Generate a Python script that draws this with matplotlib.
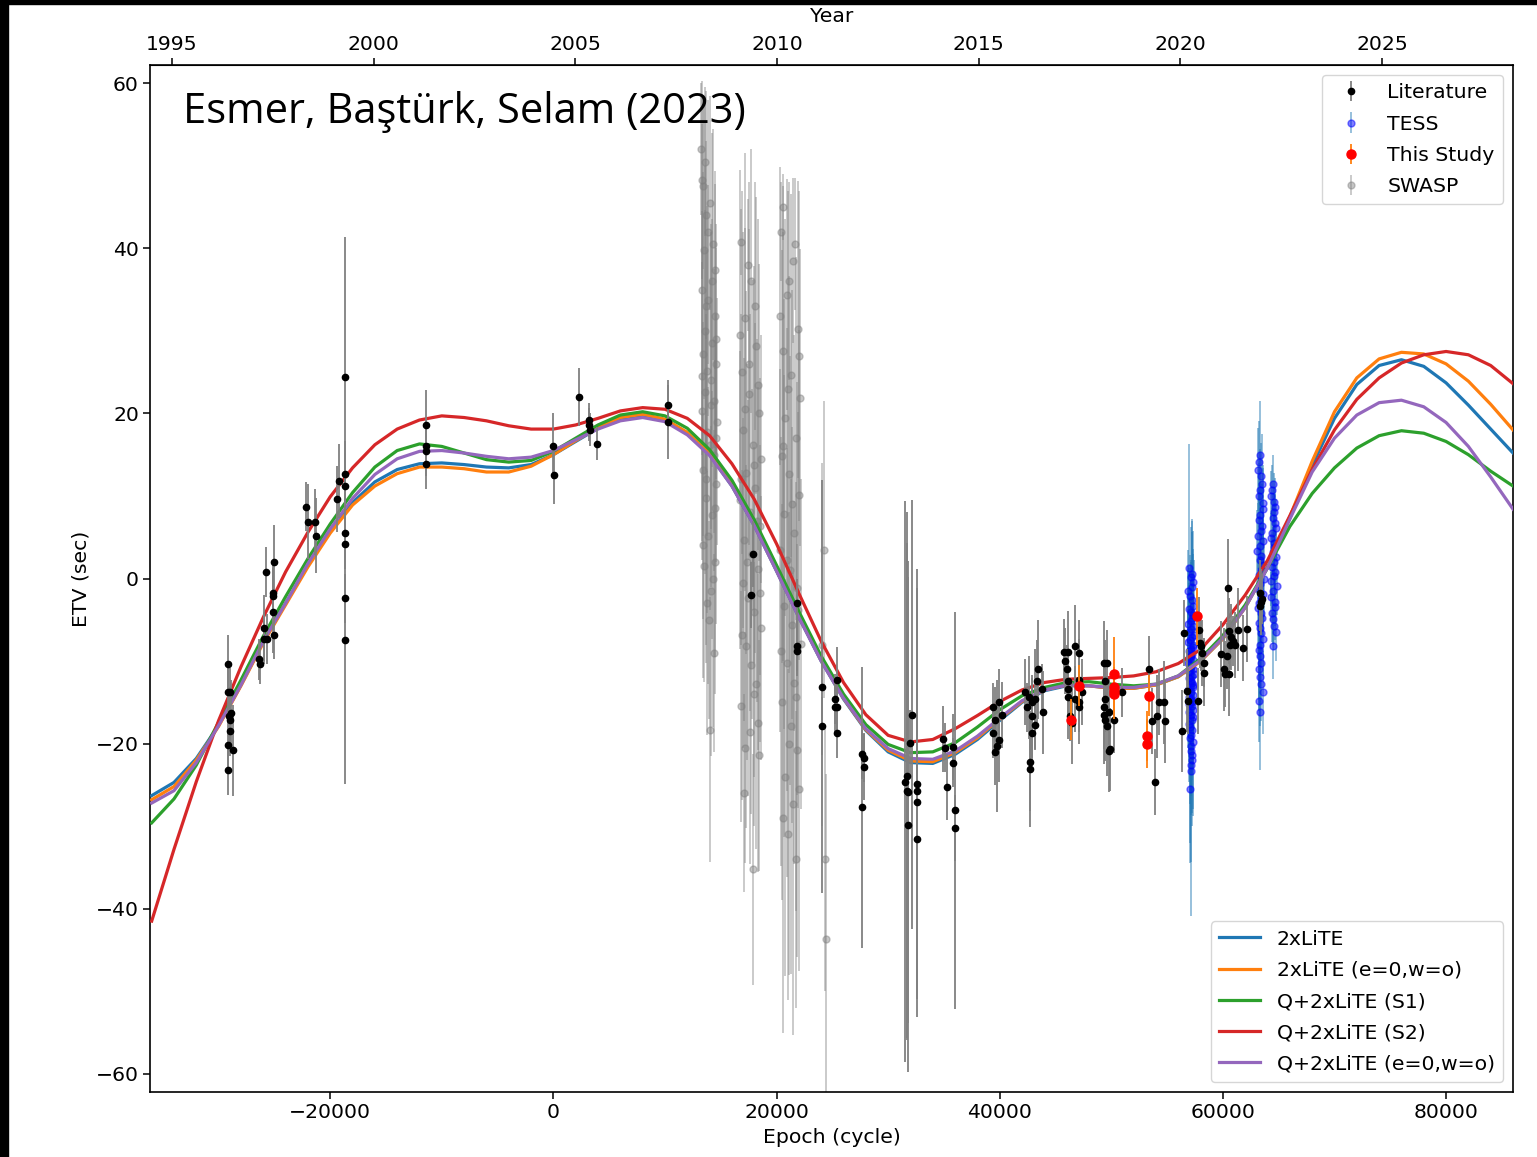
import numpy as np
import matplotlib.pyplot as plt
from matplotlib.patches import Rectangle

# model curves, sampled every 2000 cycles
epoch_grid = np.arange(-36000, 86001, 2000)
fit_2lite = [-26.3, -24.7, -21.8, -17.8, -12.9, -7.6, -3.0, 1.6, 5.8, 9.2,
             11.7, 13.2, 13.9, 14.0, 13.8, 13.5, 13.4, 13.8, 15.0, 16.6,
             18.2, 19.3, 19.7, 19.2, 17.6, 15.0, 11.2, 6.4, 0.9, -4.7,
             -10.0, -14.6, -18.4, -21.0, -22.3, -22.4, -21.3, -19.5, -17.2, -15.0,
             -13.6, -13.0, -13.0, -13.3, -13.3, -12.9, -11.9, -10.0, -7.3, -3.5,
             1.3, 7.3, 13.7, 19.4, 23.5, 25.8, 26.5, 25.7, 23.7, 21.0,
             18.1, 15.2]
fit_2lite_circ = [-26.8, -25.2, -22.0, -17.9, -13.0, -7.8, -3.2, 1.4, 5.5, 8.9,
                  11.2, 12.7, 13.5, 13.5, 13.3, 12.9, 12.9, 13.6, 15.0, 16.7,
                  18.3, 19.5, 19.9, 19.3, 17.7, 15.1, 11.3, 6.5, 1.0, -4.6,
                  -9.9, -14.5, -18.3, -20.8, -22.1, -22.2, -21.1, -19.3, -17.0, -14.9,
                  -13.5, -12.9, -13.0, -13.3, -13.3, -12.9, -11.9, -10.0, -7.3, -3.5,
                  1.4, 7.5, 14.2, 20.2, 24.3, 26.6, 27.4, 27.2, 26.0, 23.9,
                  21.1, 18.0]
fit_q_s1 = [-29.6, -26.7, -22.6, -17.4, -12.3, -7.0, -2.2, 2.4, 6.6, 10.4,
            13.5, 15.5, 16.3, 16.0, 15.2, 14.4, 14.1, 14.3, 15.4, 17.0,
            18.6, 19.8, 20.2, 19.7, 18.2, 15.6, 11.9, 7.1, 1.6, -4.0,
            -9.4, -14.0, -17.7, -20.1, -21.1, -21.0, -19.9, -18.0, -15.9, -14.2,
            -13.2, -12.6, -12.5, -12.8, -13.0, -12.8, -11.8, -9.7, -6.9, -3.2,
            1.3, 6.3, 10.3, 13.4, 15.8, 17.3, 17.9, 17.6, 16.6, 15.0,
            13.0, 11.2]
fit_q_s2 = [-41.5, -32.8, -24.6, -17.2, -10.7, -4.7, 0.8, 5.6, 9.9, 13.4,
            16.2, 18.1, 19.2, 19.7, 19.5, 19.1, 18.5, 18.1, 18.1, 18.6,
            19.4, 20.3, 20.7, 20.5, 19.4, 17.3, 13.9, 9.6, 4.2, -1.8,
            -7.6, -12.6, -16.5, -19.0, -19.8, -19.5, -18.2, -16.6, -14.9, -13.5,
            -12.6, -12.2, -12.1, -12.0, -11.8, -11.3, -10.3, -8.6, -5.6, -2.0,
            2.2, 7.6, 13.2, 18.0, 21.7, 24.3, 26.1, 27.1, 27.5, 27.1,
            25.8, 23.6]
fit_q_circ = [-27.2, -25.7, -22.3, -17.8, -12.9, -7.6, -3.0, 1.8, 6.0, 9.7,
              12.6, 14.5, 15.4, 15.5, 15.2, 14.8, 14.5, 14.7, 15.5, 16.8,
              18.1, 19.1, 19.5, 19.0, 17.4, 14.9, 11.2, 6.4, 0.9, -4.7,
              -10.0, -14.5, -18.2, -20.6, -21.8, -21.9, -20.9, -19.1, -16.9, -14.8,
              -13.5, -12.9, -13.0, -13.2, -13.2, -12.8, -11.8, -9.9, -7.2, -3.5,
              1.3, 7.2, 12.9, 17.0, 19.8, 21.3, 21.6, 20.8, 18.9, 16.0,
              12.3, 8.4]

# epoch, ETV (s), error (s)
literature = np.array([
    (-29180, -10.3, 3.5), (-29180, -13.8, 3.0), (-28940, -13.8, 3.0), (-29090, -16.7, 3.5),
    (-28880, -16.3, 4.0), (-28940, -17.1, 3.0), (-28970, -18.5, 3.0), (-29180, -20.2, 3.0),
    (-28670, -20.8, 5.5), (-29120, -23.2, 3.0),
    (-26340, -9.8, 2.5), (-26300, -10.3, 2.5), (-25890, -6.0, 4.0), (-25890, -7.3, 3.0),
    (-25740, 0.8, 3.0), (-25650, -7.3, 3.0), (-25110, -1.7, 3.0), (-25110, -2.1, 4.0),
    (-25140, -4.0, 5.0), (-25050, -6.8, 3.0), (-25050, 2.0, 4.5),
    (-22150, 8.7, 3.0), (-22000, 6.9, 4.5), (-21320, 6.9, 4.0), (-21280, 5.2, 4.5),
    (-19370, 9.6, 4.0), (-19170, 11.8, 4.5), (-18720, 12.7, 4.0), (-18720, 11.2, 4.0),
    (-18720, 5.5, 3.0), (-18720, 4.2, 3.0), (-18720, -2.4, 3.0), (-18720, -7.4, 17.5),
    (-18720, 24.4, 17.0),
    (-11390, 18.6, 4.2), (-11390, 16.0, 3.0), (-11390, 15.4, 3.0), (-11390, 13.9, 3.0),
    (0, 16.0, 4.0), (90, 12.5, 3.5), (2330, 22.0, 3.5), (3230, 19.2, 2.0),
    (3230, 18.6, 2.0), (3320, 18.0, 2.0), (3950, 16.3, 2.0), (10230, 21.0, 3.0),
    (10230, 19.0, 4.5),
    (17850, 3.0, 4.0), (17670, -2.0, 4.0), (21800, -3.0, 3.0), (21800, -8.2, 3.0),
    (21800, -8.8, 3.0), (24040, -13.1, 25.0), (24040, -17.9, 3.5), (25450, -12.3, 4.0),
    (25230, -14.6, 3.0), (25230, -15.6, 3.0), (25450, -15.6, 3.0), (25450, -18.7, 3.0),
    (27620, -21.3, 3.0), (27870, -21.7, 3.0), (27870, -22.8, 4.0), (27700, -27.7, 17.0),
    (31660, -23.9, 32.0), (31510, -24.6, 34.0), (31660, -25.7, 30.0), (31810, -25.9, 28.0),
    (31810, -29.8, 30.0), (31960, -19.9, 4.0), (32110, -16.5, 26.0), (32620, -24.9, 26.0),
    (32620, -25.8, 4.0), (32620, -27.1, 26.0), (32620, -31.6, 4.0),
    (34950, -19.5, 4.0), (35100, -20.5, 3.0), (35850, -20.4, 4.0), (35250, -25.3, 4.0),
    (35800, -22.3, 3.0), (35990, -28.1, 24.0), (35990, -30.2, 4.0),
    (39440, -15.6, 3.0), (39890, -15.0, 4.0), (39590, -17.2, 4.0), (39440, -18.7, 3.0),
    (39890, -19.6, 5.0), (40180, -16.5, 4.0), (39740, -20.3, 8.0), (39590, -21.0, 4.0),
    (42270, -13.8, 4.0), (42580, -14.4, 5.0), (42870, -15.0, 3.0), (43170, -14.6, 6.0),
    (42420, -15.6, 3.0), (42870, -16.7, 5.0), (43170, -17.8, 3.0), (42870, -18.7, 4.0),
    (42720, -22.2, 6.0), (42720, -23.1, 7.0), (43470, -11.0, 6.0), (43320, -12.4, 5.0),
    (43770, -13.4, 3.0), (43920, -16.2, 5.0),
    (45720, -8.9, 4.0), (46160, -8.9, 5.0), (45860, -10.0, 4.0), (46010, -11.0, 3.0),
    (46160, -12.4, 4.0), (46160, -13.4, 3.0), (46160, -14.4, 5.0), (46310, -16.7, 3.0),
    (46460, -17.5, 5.0), (46760, -8.2, 5.0), (47060, -9.0, 4.0), (46760, -14.6, 4.0),
    (47060, -15.0, 5.0), (47060, -15.6, 3.0), (47360, -13.8, 4.0), (47060, -12.3, 5.0),
    (49300, -10.2, 5.0), (49600, -10.2, 4.0), (49450, -12.4, 5.0), (49450, -14.6, 4.0),
    (49300, -15.6, 5.0), (49300, -16.5, 6.0), (49450, -17.1, 5.0), (49750, -16.2, 4.0),
    (50200, -17.1, 4.0), (49900, -20.7, 5.0), (49750, -20.9, 5.0), (49600, -17.9, 6.0),
    (50940, -13.8, 3.0), (53340, -11.0, 4.0), (53640, -17.3, 4.0), (54080, -16.7, 5.0),
    (54230, -15.0, 4.0), (54680, -15.0, 5.0), (54830, -17.3, 5.0), (53930, -24.6, 4.0),
    (56330, -18.5, 5.0), (56530, -6.6, 4.0), (56770, -13.6, 5.0), (56860, -14.8, 4.0),
    (57820, -6.2, 4.0), (57960, -7.8, 3.0), (58050, -8.2, 3.0), (58110, -9.0, 4.0),
    (58320, -10.2, 3.0), (58320, -11.4, 4.0), (57770, -14.8, 4.0), (59830, -9.2, 4.0),
    (60070, -11.0, 5.0), (60160, -11.6, 4.0), (60520, -11.6, 5.0), (60460, -1.2, 6.0),
    (60520, -6.4, 4.0), (60700, -7.1, 4.0), (60880, -7.6, 3.0), (61060, -8.0, 4.0),
    (60610, -8.0, 3.0), (60340, -9.4, 4.0), (61390, -6.2, 5.0), (61840, -8.4, 4.0),
    (62150, -6.1, 4.0), (63350, -1.7, 4.0), (63500, -2.5, 3.0), (63290, -3.3, 3.0),
    (63400, -2.9, 4.0),
])

this_study = np.array([
    (46400, -17.1, 2.5), (47060, -13.0, 2.5), (50250, -11.6, 4.5), (50200, -13.2, 2.5),
    (50200, -13.6, 2.5), (50200, -14.0, 3.0), (53340, -14.2, 2.5), (53190, -19.1, 3.0),
    (53190, -20.0, 3.0), (57670, -4.6, 3.5),
])

tess = np.array([
    # sectors around cycle 57100
    (57000, 1.3, 15.0), (57250, 0.6, 5.0), (57150, 0.2, 6.0), (57350, -0.4, 4.0),
    (57250, -1.0, 8.0), (56900, -1.5, 5.0), (57050, -2.1, 5.0), (57200, -2.6, 4.0),
    (57350, -3.3, 9.0), (56950, -3.7, 5.0), (57100, -4.0, 6.0), (57300, -4.4, 5.0),
    (57200, -4.8, 12.0), (57150, -5.2, 4.0), (56900, -5.5, 7.0), (57350, -5.8, 5.0),
    (57150, -6.1, 5.0), (56950, -6.5, 6.0), (57400, -6.8, 9.0), (57200, -7.1, 5.0),
    (57050, -7.4, 6.0), (56900, -7.7, 4.0), (57300, -8.0, 11.0), (57350, -8.3, 5.0),
    (57100, -8.5, 5.0), (56950, -8.8, 6.0), (57250, -9.1, 7.0), (57150, -9.4, 5.0),
    (57000, -9.6, 9.0), (57350, -9.9, 4.0), (56900, -10.2, 6.0), (57050, -10.5, 5.0),
    (57150, -10.7, 13.0), (57300, -11.0, 6.0), (57000, -11.3, 5.0), (57400, -11.6, 7.0),
    (57250, -11.8, 8.0), (56950, -12.1, 5.0), (57100, -12.4, 6.0), (57200, -12.7, 5.0),
    (57300, -12.9, 10.0), (57350, -13.2, 6.0), (56900, -13.5, 7.0), (57100, -13.8, 5.0),
    (57300, -14.1, 5.0), (57000, -14.4, 6.0), (57150, -14.6, 9.0), (57250, -14.9, 5.0),
    (56950, -15.2, 6.0), (57200, -15.5, 5.0), (57350, -15.9, 12.0), (57000, -16.2, 6.0),
    (57100, -16.5, 8.0), (57300, -16.8, 5.0), (57200, -17.2, 6.0), (56950, -17.6, 7.0),
    (57050, -18.0, 14.0), (57250, -18.4, 6.0), (57150, -18.9, 7.0), (57050, -19.3, 8.0),
    (57300, -19.8, 9.0), (57150, -20.3, 6.0), (57100, -20.9, 20.0), (57250, -21.4, 7.0),
    (57200, -22.0, 8.0), (57100, -22.6, 6.0), (57150, -23.3, 11.0), (57050, -25.5, 9.0),
    # sectors around cycle 63400
    (63350, 15.0, 6.5), (63250, 14.1, 5.0), (63150, 13.2, 5.0), (63450, 12.4, 4.0),
    (63500, 11.5, 6.0), (63300, 10.7, 5.0), (63250, 10.0, 4.0), (63550, 9.2, 4.5),
    (63600, 8.4, 5.0), (63350, 7.7, 4.0), (63200, 7.1, 4.5), (63500, 6.4, 5.0),
    (63400, 5.8, 6.0), (63150, 5.1, 4.0), (63550, 4.5, 4.0), (63300, 3.9, 5.0),
    (63100, 3.3, 5.0), (63450, 2.7, 4.0), (63300, 2.2, 4.0), (63600, 1.6, 5.0),
    (63450, 1.0, 6.0), (63200, 0.4, 4.0), (63650, -0.1, 5.0), (63350, -0.7, 4.5),
    (63250, -1.3, 4.0), (63550, -1.9, 5.0), (63400, -2.4, 5.0), (63250, -3.0, 4.0),
    (63150, -3.6, 6.0), (63450, -4.2, 5.0), (63500, -4.8, 4.0), (63200, -5.4, 4.5),
    (63300, -6.0, 5.0), (63400, -6.6, 4.0), (63600, -7.3, 4.5), (63350, -8.0, 5.0),
    (63200, -8.7, 6.0), (63300, -9.4, 4.0), (63450, -10.2, 5.0), (63250, -11.0, 5.0),
    (63350, -11.9, 6.0), (63400, -12.8, 4.5), (63550, -13.8, 5.0), (63250, -14.8, 5.0),
    (63300, -16.2, 7.0),
    # sectors around cycle 64550
    (64500, 11.4, 3.6), (64400, 10.7, 3.0), (64350, 10.0, 3.0), (64600, 9.3, 3.5),
    (64700, 8.7, 3.5), (64550, 8.0, 3.0), (64450, 7.3, 3.0), (64650, 6.7, 3.5),
    (64800, 6.1, 3.5), (64400, 5.5, 3.0), (64300, 4.9, 3.0), (64550, 4.3, 3.5),
    (64600, 3.8, 4.0), (64450, 3.2, 3.0), (64750, 2.6, 3.0), (64600, 2.0, 3.5),
    (64400, 1.4, 3.5), (64700, 0.8, 3.0), (64550, 0.3, 3.0), (64350, -0.3, 3.0),
    (64850, -0.9, 3.5), (64500, -1.5, 3.0), (64350, -2.2, 3.0), (64700, -2.8, 3.0),
    (64650, -3.5, 4.0), (64400, -4.2, 3.5), (64500, -4.9, 3.0), (64600, -5.7, 3.0),
    (64750, -6.5, 3.5), (64450, -8.2, 4.0),
])

swasp = np.array([
    (13300, 48.3, 12), (13450, 47.5, 10), (13700, 44.0, 15), (14300, 40.5, 14),
    (13500, 39.8, 18), (14450, 37.4, 12), (13350, 35.0, 20), (13900, 33.7, 14),
    (14500, 31.8, 16), (13600, 30.0, 20), (14200, 28.5, 15), (13400, 27.2, 22),
    (14600, 26.0, 14), (13800, 25.1, 20), (14100, 24.0, 18), (13550, 22.6, 22),
    (14400, 21.5, 16), (13300, 20.3, 18), (14650, 19.0, 15), (13750, 17.8, 22),
    (14000, 16.2, 20), (14350, 14.9, 14), (13450, 13.1, 18), (14550, 11.5, 17),
    (13650, 9.8, 20), (14250, 7.7, 15), (13850, 5.2, 18), (14500, 2.0, 16),
    (13500, 1.5, 14), (14150, -1.5, 20), (13950, -5.0, 12), (14400, -9.0, 12),
    (14050, -18.3, 16), (13250, 52.0, 8), (13600, 50.5, 9), (14050, 45.5, 13),
    (13850, 42.0, 16), (14250, 36.0, 18), (13650, 33.0, 20), (14550, 29.0, 14),
    (13350, 24.5, 20), (14150, 21.0, 22), (13700, 12.0, 20), (14450, 8.5, 18),
    (13400, 4.0, 16), (14300, 0.0, 18), (13800, -3.0, 16), (14600, 17.0, 15),
    (16800, 40.8, 4), (17700, 36.0, 16), (17200, 31.5, 20), (18200, 28.2, 18),
    (16900, 25.0, 22), (17500, 22.3, 20), (18400, 20.1, 18), (17000, 18.0, 24),
    (17900, 16.2, 20), (18600, 14.5, 15), (17300, 12.8, 22), (18100, 11.0, 20),
    (16700, 9.5, 18), (17600, 8.0, 24), (18500, 6.3, 18), (17100, 4.7, 22),
    (17800, 3.0, 20), (18300, 1.2, 22), (16950, -0.5, 20), (17400, -2.4, 24),
    (18000, -4.1, 20), (18650, -6.0, 16), (17250, -8.2, 22), (17750, -10.5, 18),
    (18150, -12.8, 20), (16850, -15.5, 14), (17650, -18.6, 16), (18450, -21.4, 14),
    (17050, -26.0, 12), (17850, -35.2, 14), (17450, 38.0, 8), (18050, 33.0, 15),
    (16750, 29.5, 20), (17550, 26.0, 22), (18350, 23.5, 20), (17150, 20.5, 22),
    (17950, 13.8, 24), (16850, 12.0, 20), (18250, 7.0, 22), (17350, 2.0, 24),
    (18550, -1.8, 18), (16900, -6.8, 20), (17950, -14.0, 16), (18350, -17.5, 18),
    (17150, -20.5, 14),
    (20400, 42.0, 6), (21500, 38.5, 10), (20900, 34.4, 14), (21900, 30.2, 18),
    (20600, 27.5, 20), (21300, 24.6, 22), (22100, 21.9, 18), (20800, 19.5, 24),
    (21700, 17.0, 22), (20500, 14.8, 25), (21100, 12.6, 24), (22000, 10.1, 20),
    (20700, 7.8, 26), (21600, 5.5, 24), (20300, 3.4, 22), (21200, 1.0, 26),
    (21800, -1.2, 25), (20650, -3.3, 28), (21400, -5.6, 24), (22150, -7.9, 20),
    (20950, -10.2, 26), (21550, -12.6, 22), (20450, -15.0, 24), (21250, -17.9, 30),
    (21850, -20.8, 25), (20750, -24.1, 24), (21450, -27.3, 28), (21050, -31.0, 20),
    (21750, -34.0, 18), (20550, 45.0, 4), (21650, 40.5, 8), (21150, 36.0, 12),
    (20350, 31.8, 18), (22050, 27.0, 20), (21000, 23.0, 24), (20600, 16.0, 26),
    (21350, 9.0, 26), (20900, 2.3, 28), (21950, -3.8, 24), (20400, -8.8, 26),
    (21700, -14.3, 26), (21100, -20.0, 28), (22000, -25.5, 22), (20550, -29.0, 26),
    (24100, -8.0, 22), (24350, -34.0, 16), (24450, -43.7, 20), (24250, 3.5, 18),
])

models = [
    ('2xLiTE', fit_2lite, 'C0'),
    ('2xLiTE (e=0,w=o)', fit_2lite_circ, 'C1'),
    ('Q+2xLiTE (S1)', fit_q_s1, 'C2'),
    ('Q+2xLiTE (S2)', fit_q_s2, 'C3'),
    ('Q+2xLiTE (e=0,w=o)', fit_q_circ, 'C4'),
]

plt.rcParams['font.size'] = 14.7

fig = plt.figure(figsize=(15.37, 11.57), dpi=100)
ax = fig.add_axes([0.0976, 0.0562, 0.8868, 0.8876])

h_swasp = ax.errorbar(swasp[:, 0], swasp[:, 1], yerr=swasp[:, 2], fmt='o', color='gray',
                      ms=5, elinewidth=1.3, alpha=0.45, zorder=1)
h_tess = ax.errorbar(tess[:, 0], tess[:, 1], yerr=tess[:, 2], fmt='o', color='b',
                     ecolor='tab:blue', ms=5, elinewidth=1.3, alpha=0.5, zorder=2)

lines = []
for name, vals, col in models:
    ln, = ax.plot(epoch_grid, vals, color=col, lw=2.3, label=name, zorder=3)
    lines.append(ln)

h_lit = ax.errorbar(literature[:, 0], literature[:, 1], yerr=literature[:, 2], fmt='o',
                    color='k', ecolor='gray', ms=4.5, elinewidth=1.3, zorder=4)
h_this = ax.errorbar(this_study[:, 0], this_study[:, 1], yerr=this_study[:, 2], fmt='o',
                     color='r', ecolor='tab:orange', ms=6.5, elinewidth=1.3, zorder=5)

ax.set_xlim(-36150, 86000)
ax.set_ylim(-62.2, 62.2)
ax.set_xticks([-20000, 0, 20000, 40000, 60000, 80000])
ax.set_yticks([-60, -40, -20, 0, 20, 40, 60])
ax.set_xlabel('Epoch (cycle)')
ax.set_ylabel('ETV (sec)')


def epoch_to_year(e):
    return 1995 + (e + 34172) / 3614.5


def year_to_epoch(y):
    return (y - 1995) * 3614.5 - 34172


sec = ax.secondary_xaxis('top', functions=(epoch_to_year, year_to_epoch))
sec.set_xticks([1995, 2000, 2005, 2010, 2015, 2020, 2025])
sec.set_xlabel('Year', labelpad=9)

for a in (ax, sec):
    a.tick_params(length=5, width=1.1, pad=3)
for sp in ax.spines.values():
    sp.set_linewidth(1.2)

leg1 = ax.legend([h_lit, h_tess, h_this, h_swasp], ['Literature', 'TESS', 'This Study', 'SWASP'],
                 loc='upper right', labelspacing=0.6)
ax.add_artist(leg1)
ax.legend(handles=lines, loc='lower right', labelspacing=0.6)

fig.text(0.119, 0.8934, 'Esmer, Baştürk, Selam (2023)', fontsize=30,
         family=['Open Sans', 'DejaVu Sans'], va='baseline')

# dark frame strips along the left and top edges
fig.patches.append(Rectangle((0, 0), 8 / 1537, 1, transform=fig.transFigure,
                             color='k', zorder=10))
fig.patches.append(Rectangle((0, 1 - 4 / 1157), 1, 4 / 1157, transform=fig.transFigure,
                             color='k', zorder=10))

fig.savefig('out.png', dpi=100)
